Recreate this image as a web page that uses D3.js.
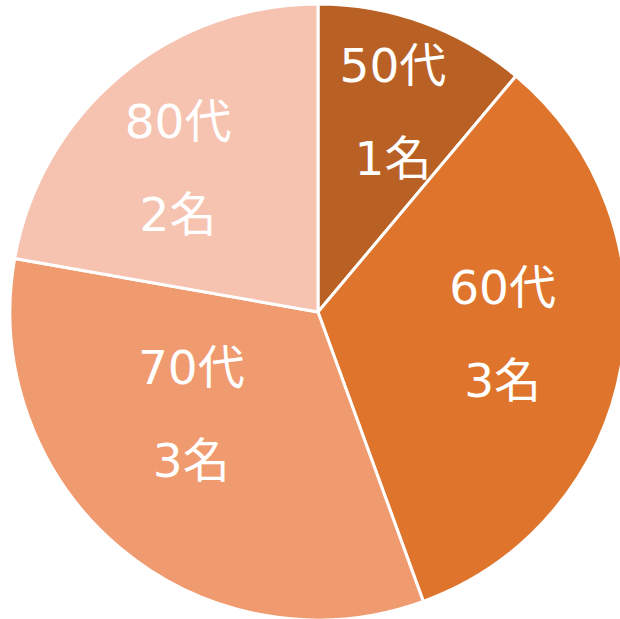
<!DOCTYPE html>
<html>
<head>
<meta charset="utf-8">
<script src="https://cdn.jsdelivr.net/npm/d3@7"></script>
<style>
  html, body { margin: 0; padding: 0; background: #fff; }
  svg { display: block; }
</style>
</head>
<body>
<svg id="chart" width="620" height="619"></svg>
<script>
var ages = ["50代", "60代", "70代", "80代"];
var counts = [1, 3, 3, 2];
var countLabels = ["1名", "3名", "3名", "2名"];
var colors = ["#B96125", "#DF752D", "#F09A70", "#F5C3B0"];

// label placement (Excel best fit moves some labels off the centroid)
var labelRadius = [213, 186, 163, 200];
var labelTurn = [0.6, -3, 11, -4.4];

var svg = d3.select("#chart");
var cx = 318, cy = 312, radius = 308;

var pie = d3.pie().sort(null).value(function(d) { return d; });
var arcs = pie(counts);
var arc = d3.arc().innerRadius(0).outerRadius(radius);

var g = svg.append("g").attr("transform", "translate(" + cx + "," + cy + ")");

g.selectAll(".slice")
    .data(arcs)
    .enter()
    .append("path")
    .attr("class", "slice")
    .attr("d", arc)
    .attr("fill", function(d, i) { return colors[i]; })
    .attr("stroke", "#fff")
    .attr("stroke-width", 3)
    .attr("stroke-linejoin", "round");

var labels = g.selectAll(".label")
    .data(arcs)
    .enter()
    .append("text")
    .attr("class", "label")
    .attr("transform", function(d, i) {
        var a = (d.startAngle + d.endAngle) / 2 + labelTurn[i] * Math.PI / 180;
        var r = labelRadius[i];
        return "translate(" + (r * Math.sin(a)) + "," + (-r * Math.cos(a)) + ")";
    })
    .attr("text-anchor", "middle")
    .attr("fill", "#fff")
    .style("font-family", "'DejaVu Sans', 'Noto Sans CJK JP', sans-serif")
    .style("font-size", "47px");

labels.append("tspan")
    .attr("x", 0)
    .attr("y", -31)
    .text(function(d, i) { return ages[i]; });
labels.append("tspan")
    .attr("x", 0)
    .attr("y", 62)
    .text(function(d, i) { return countLabels[i]; });
</script>
</body>
</html>
